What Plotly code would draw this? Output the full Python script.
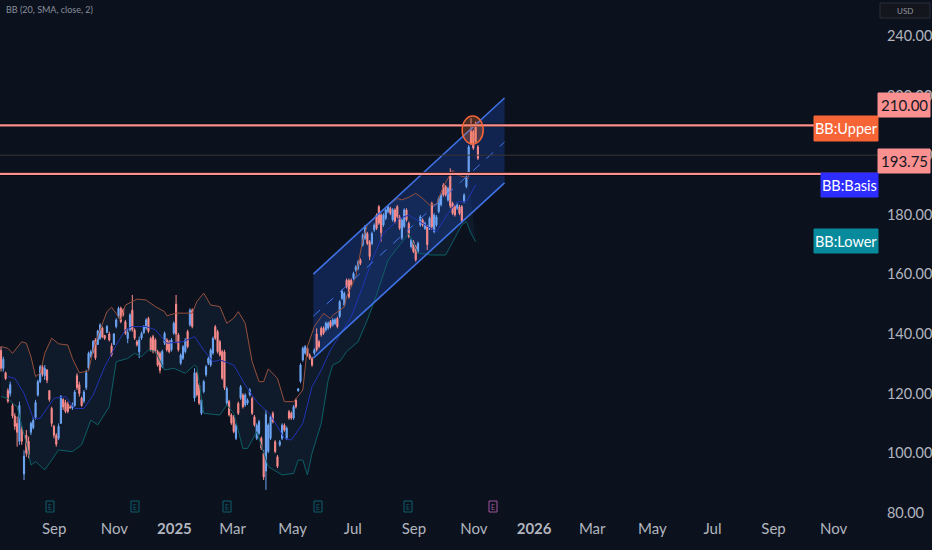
import pandas as pd
import plotly.graph_objects as go

W, H, MR, MB = 932, 550, 54, 32
PW, PH = W - MR, H - MB

opens = [134.5,128.5,127,121,120,116,112.5,110,104,108,93,106,104,107,108.5,112,119.5,124,129,126,128,121,115,109,106,105,110,118,117,116.5,115.5,115.2,116,126,123,118.5,117.5,122,128.5,132.5,134,138,136.5,138.5,142,139.5,140.5,140,136,136.5,
142.5,145.9,148.6,148,144.1,138.5,141.4,148,141.3,137.4,134,138.6,140.5,142,145.2,138.5,139.1,138,134.1,133.5,129.1,136.9,138,137.4,134.7,140.3,150,139.7,130.2,131.9,134.1,140.8,143.1,148,118.5,126.8,122.9,113.4,120.7,126.3,130.2,129.6,133.6,142.4,140.8,137.4,134.1,134,116.8,117.3,112.8,112.2,
105,116.7,118.5,119.5,116.2,116.8,119.6,118.4,112.2,105,106.7,105,100,94,100.6,105,113.4,103.8,98.8,102.8,105,109.4,105,113.9,113.4,111.8,117.8,120.9,124.1,131.3,133.6,135.2,132.9,131.8,133.6,140,137.4,141.9,141.9,141.4,142,144.1,143.1,143.5,145.2,145.9,152,
149.7,158,158,158,158.7,161.4,162,164.8,169.9,172.1,173.7,170.9,170.4,174.9,179.9,182.7,179.9,176.6,178.8,181.1,182.1,178.3,181.6,
182.7,179.3,172.2,176.1,181.6,177.1,169.3,170.9,169.3,167.7,176.6,178.2,175.5,176,175.5,183.8,174.4,176.6,181.1,183.4,190,189.4,185,193,183.8,182.7,182.2,182.7,182.7,184.5,189.5,193.4,208,207.9,210.7,202.8]
highs = [135.8,132.4,127.4,121.8,124,116.8,113.4,112.3,117.3,109,101,107.8,105.6,110.6,112,117.9,124.6,129.6,129.6,129.6,128,121.2,115.6,109.5,106.7,110,119.5,118.4,117.9,117.3,116.2,117,121.2,126.8,124,119,121.2,128,134.1,134.7,138,138.6,141.4,143.6,142.5,139.7,143,140.8,136.9,140.3,
145.3,149.2,149.2,148.6,144.7,141.9,147,153.1,141.9,138,139.1,140.8,143,145.3,145.8,139.1,139.7,138.6,134.7,134.1,134.7,140.8,138.6,138,138.6,144.2,153.1,140.3,133.5,136.3,138.6,141.4,148.6,148.6,128.5,127.4,123.5,118.4,124.6,129.6,132.4,135.2,139.1,143,141.4,138,134.7,134.7,122.3,117.9,113.4,112.8,
110,117.3,122.9,120.1,120.1,118.4,121.8,119,112.8,110,111.2,105.6,101.1,114.5,110,112.8,114,104.4,99.4,104.4,110,110,109,114.5,114,116.2,118.4,121.8,130.2,135.8,136.3,135.8,133.5,132.4,135.2,141.9,138,142.5,142.5,144.2,144.2,144.7,145.3,145.3,145.8,151.4,155,
154.2,158.6,158.6,158.6,160.9,163.1,164.8,165.4,173.8,176.6,174.3,171.5,174.3,177.1,180.5,183.3,180.5,180.5,182.2,183.3,182.7,182.2,182.2,
183.3,179.9,178.8,182.2,182.2,177.7,172.1,171.5,169.9,171,179.9,178.8,177.7,176.6,179.4,184.4,180.5,179.9,186.1,187.2,190.6,190,189.4,195.6,184.4,183.3,183.9,183.3,183.3,187.2,193.4,203.4,212.4,208.5,211.3,203.4]
lows = [127.4,127.4,124.6,116.8,119,111.7,107.8,102.2,102.8,102.8,91,98.8,98.3,106.1,108,111.2,119,123.5,125.7,124.6,123.5,117.3,108.9,105,102.2,104.4,110,114.5,113.4,113.4,115,114.5,115.6,121.2,119,115.6,116.8,121.2,128,131.9,133.5,131.3,136.3,138,138.6,138,140.3,137.5,132.4,136.3,
141.9,145.3,143.6,145.8,139.7,136.9,140.8,140.8,138,135.8,131.9,138,140,141.4,140.3,134.1,133.5,133.5,129,126.8,128.5,136.3,134.1,133.5,134.1,139.7,136.9,134.1,129.6,131.3,133.5,135.2,142.5,141.9,117.3,119,116.2,112.8,120.1,125.7,129.6,129,133,138,133.5,132.4,124.6,121.2,116.2,112.3,109.5,106.7,
104.4,112.8,117.9,115,115.6,116.2,119,112.8,108.9,104.4,106.1,101.1,91,87.7,100,104.4,110,100,95,102.2,104.4,107.2,104.4,111.2,111.2,111.2,115,120.7,123.5,130.7,133,132.4,131.3,129,133,134.1,135.2,139.1,139.7,140.8,141.4,141.9,142.5,143,141.9,145.3,151.4,
149.1,155.3,151.9,155.8,158.1,160.9,161.4,163.1,169.3,171.5,169.8,164.8,169.8,174.3,174.9,176.6,171,176,178.2,180.5,179.9,177.7,177.1,
178.8,174.9,171.6,175.5,177.7,172.1,168.7,167.1,164.3,167.1,176,176,174.9,168.2,174.9,174.9,173.8,176,180.5,182.8,186.1,186.1,184.4,182.2,179.9,179.4,181.6,179.9,177.2,183.9,188.9,192.8,203.4,201.8,204,198.4]
closes = [128.5,131.5,125,117.5,123,112.5,109,107,116,104,99,100,99.5,110,111,117,124,129,126.5,128.5,124.5,118,110,106,103,109,119,115.5,114,114,115.2,116,120.5,122,120,116,120.5,127,133.5,134,137.5,132,141,143,139,138.5,142.5,138,133,140,
144.7,148.6,144.2,146.4,140.3,140.5,146.4,141.5,138.6,136.4,138,140.2,142.5,144.7,140.9,134.7,134.1,134.1,129.6,127.8,134.1,140.2,134.7,134.1,138,143.6,140,134.7,132.9,135.7,138,135.8,148,142.5,127,119.6,116.8,117.8,124,129,131.8,134.6,138.5,138.6,134.1,133,125.2,122,121.7,112.9,110.1,107.3,
109.4,113.4,122.3,115.6,119.5,117.8,121.2,113.4,109.5,109.4,110.6,101.7,92,113,109.4,112.2,110.6,100.6,95.6,103.8,109.4,107.8,108.4,111.8,111.8,115.6,115.6,121.6,129.6,135.2,135.7,133,131.9,129.6,134.6,134.7,135.8,139.7,140.3,143.6,143.6,142.5,144.7,144.8,142.5,150.8,154.4,
153.6,155.9,152.5,156.4,160.3,162.5,164.2,163.7,173.2,176,170.4,166,173.7,176.5,175.5,177.2,174,179.9,181.6,182.7,180.5,181.6,177.7,
179.4,175.5,178.2,181.6,178.3,172.7,171.5,167.7,164.9,170.4,179.3,176.6,177.1,170,178.8,176,179.9,179.3,185.5,186.6,186.7,186.7,188.8,183,180.5,180,183.3,180.5,178,186.6,192.8,202.8,204,202.4,204.6,199]

upper_bar = [0,3,5,9,11,13,15,17,19,22,25,29,31,34,38,40,43,46,48,52,54,59,63,67,71,72,76,83,85,88,91,95,98,101,103,106,109,112,114,116,120,123,127,131,133,136,139,140,143,144,149,150,154,157,159,165,169,172,174,177,180,183,186,189,192,196,198,203]
upper_val = [135.8,135.2,133.5,137.4,136.9,132.4,125.7,126.8,133.5,138.6,136.7,136.3,131.8,127,127.6,134.6,141.4,147.5,149,144.7,149.7,151.7,151.4,149.2,147.5,146.1,147,147,150.9,153.7,149.7,149.2,143.6,145.3,147.5,143.6,130.7,124,124,128.3,125.1,117.3,117.3,121.2,135.8,142.5,145.8,146.9,145.2,146.3,149.1,152.5,159.2,171.5,176.6,181,183.8,185.5,185,185.9,187.2,185.5,183.3,183.5,189.5,195,193.4,192.3]
basis_bar = [3,6,10,14,17,20,23,28,32,36,40,45,50,54,57,63,67,72,79,84,88,92,95,101,106,111,117,123,126,131,135,139,143,147,152,157,161,166,173,177,183,189,194,198,202,206]
basis_val = [125.7,125.1,120.1,111.7,111.7,115,118.4,119,115,115,119.5,129,136.3,141.4,142.5,142.5,141.4,136.9,137.4,139.1,134.6,130.7,131.3,129.6,122.9,117.3,112.8,105,104.4,110,122.3,127.9,134.6,139.6,145.8,155.9,164.8,173.8,178.8,179.9,177.1,174.3,180.5,184.4,184.4,190]
lower_bar = [0,3,5,7,12,13,15,19,22,25,31,35,39,42,47,50,55,58,61,64,67,71,75,80,84,85,88,95,98,101,105,107,111,116,122,127,129,131,133,135,139,142,144,147,150,155,159,163,168,173,177,181,187,193,196,200,202,204,206]
lower_val = [119,118.4,116.7,115.6,100,96,97.2,94.4,97.7,101.1,100.5,102.8,111.1,109.5,115.6,130.7,131.8,133.5,132.4,134.6,134.1,127.9,128.5,126.8,129.6,129,113.4,112.8,116.2,113.4,101.6,101.6,107.2,95.5,92.7,93.2,97.7,97.7,92.7,100,110,124.5,129.6,130.7,134.1,137.4,144.7,153.1,164.8,169.9,173.8,167.1,166.5,166.5,171,176.6,177.7,173.8,171]

channel_dates = ["2025-05-22", "2025-12-02"]
channel_upper = [160.1, 219.2]
channel_mid = [146.0, 204.4]
channel_lower = [131.9, 190.7]

y_ticks = [80, 100, 120, 140, 160, 180, 200, 220, 240]
x_tick_dates = ["2024-09-01","2024-11-01","2025-01-01","2025-03-01","2025-05-01","2025-07-01","2025-09-01","2025-11-01","2026-01-01","2026-03-01","2026-05-01","2026-07-01","2026-09-01","2026-11-01"]
x_tick_text = ["Sep","Nov","<b>2025</b>","Mar","May","Jul","Sep","Nov","<b>2026</b>","Mar","May","Jul","Sep","Nov"]

BG = "#0b121e"
FONT = "Lato, Liberation Sans, sans-serif"
dates = pd.date_range("2024-07-09", "2025-11-05", periods=len(opens))
fig = go.Figure()
shapes, annos = [], []

def poly(xs, ys):
    pts = [f"{pd.Timestamp(x).strftime('%Y-%m-%d_%H:%M:%S')},{y}" for x, y in zip(xs, ys)]
    return "M" + " L".join(pts) + " Z"

band_x = [dates[i] for i in upper_bar] + [dates[i] for i in reversed(lower_bar)]
band_y = upper_val + lower_val[::-1]
shapes.append(dict(type="path", xref="x", yref="y", path=poly(band_x, band_y), fillcolor="#0f1b2b", line=dict(width=0), layer="below"))
shapes.append(dict(type="path", xref="x", yref="y", path=poly(channel_dates + channel_dates[::-1], channel_upper + channel_lower[::-1]),
                   fillcolor="rgba(41,98,255,0.22)", line=dict(width=0), layer="below"))

fig.add_trace(go.Candlestick(x=dates, open=opens, high=highs, low=lows, close=closes,
                             increasing=dict(line=dict(color="#6ea6f5", width=1), fillcolor="#6ea6f5"),
                             decreasing=dict(line=dict(color="#fb8c8c", width=1), fillcolor="#fb8c8c")))
fig.add_trace(go.Scatter(x=[dates[i] for i in upper_bar], y=upper_val, mode="lines", line=dict(color="#96503c", width=1)))
fig.add_trace(go.Scatter(x=[dates[i] for i in basis_bar], y=basis_val, mode="lines", line=dict(color="#2033b4", width=1)))
fig.add_trace(go.Scatter(x=[dates[i] for i in lower_bar], y=lower_val, mode="lines", line=dict(color="#0d5f66", width=1)))
for vals in (channel_upper, channel_lower):
    fig.add_trace(go.Scatter(x=channel_dates, y=vals, mode="lines", line=dict(color="#3f72e6", width=1.6)))
fig.add_trace(go.Scatter(x=channel_dates, y=channel_mid, mode="lines", line=dict(color="#3f72e6", width=1, dash="dash")))

def px(x): return x / PW
def py(y): return 1 - y / PH

for level, color, w in ((200, "#3a3433", 1), (210, "#000000", 3.4), (193.75, "#000000", 3.4), (210, "#fb9090", 2.2), (193.75, "#fb9090", 2.2)):
    shapes.append(dict(type="line", xref="paper", yref="y", x0=0, x1=1, y0=level, y1=level, line=dict(color=color, width=w), layer="above"))

shapes.append(dict(type="circle", xref="paper", yref="paper", x0=px(462.2), x1=px(483.2), y0=py(116), y1=py(144),
                   fillcolor="rgba(247,120,54,0.28)", line=dict(color="#f76436", width=1.5), layer="above"))

def box(x0, x1, y0, y1, fill, text, color, size=15, line=None):
    shapes.append(dict(type="rect", xref="paper", yref="paper", x0=px(x0), x1=px(x1), y0=py(y0), y1=py(y1),
                       fillcolor=fill, line=dict(color=line or fill, width=1), layer="above"))
    annos.append(dict(xref="paper", yref="paper", x=px((x0 + x1) / 2), y=py((y0 + y1) / 2), text=text, showarrow=False,
                      font=dict(family=FONT, size=size, color=color), xanchor="center", yanchor="middle"))

box(878, 930, 93, 117, "#fb9090", "210.00", "#131722")
box(878, 930, 149, 173, "#fb9090", "193.75", "#131722")
box(814, 878, 116, 141, "#f76436", "BB:Upper", "#ffffff", size=14.5)
box(821, 878, 173, 197, "#2d2dff", "BB:Basis", "#ffffff", size=14.5)
box(814, 878, 229, 253, "#078a9c", "BB:Lower", "#ffffff", size=14.5)
box(880, 930, 3, 18, "#14161d", "USD", "#9598a1", size=8, line="#2a2e39")

for x, col in ((50, "#0c5f6b"), (135, "#0c5f6b"), (227, "#0c5f6b"), (318, "#0c5f6b"), (408, "#0c5f6b"), (493, "#a0559a")):
    box(x - 4, x + 4, 501, 512, "rgba(0,0,0,0)", "E", col, size=7, line=col)

annos.append(dict(xref="paper", yref="paper", x=px(4), y=py(10), text="BB (20, SMA, close, 2)", showarrow=False, xanchor="left", yanchor="middle",
                  font=dict(family=FONT, size=9, color="#8a8f9b")))

fig.update_layout(width=W, height=H, margin=dict(l=0, r=MR, t=0, b=MB, pad=0, autoexpand=False), paper_bgcolor=BG, plot_bgcolor=BG, showlegend=False,
                  shapes=shapes, annotations=annos, hovermode=False,
                  xaxis=dict(type="date", range=["2024-07-08", "2026-12-16"], tickvals=x_tick_dates, ticktext=x_tick_text, ticks="", automargin=False,
                             showgrid=False, zeroline=False, showline=False, rangeslider=dict(visible=False),
                             tickfont=dict(family=FONT, size=15, color="#b2b5be")),
                  yaxis=dict(side="right", range=[78.25, 252.08], tickvals=y_ticks, ticktext=[f"{v:.2f}" for v in y_ticks], ticks="outside", ticklen=5, automargin=False,
                             tickcolor=BG, showgrid=False, zeroline=False, showline=False,
                             tickfont=dict(family=FONT, size=14.5, color="#b2b5be")))
fig.write_html("out.html", config=dict(displayModeBar=False),
               post_script="document.body.style.margin='0';document.body.style.background='%s';" % BG)
